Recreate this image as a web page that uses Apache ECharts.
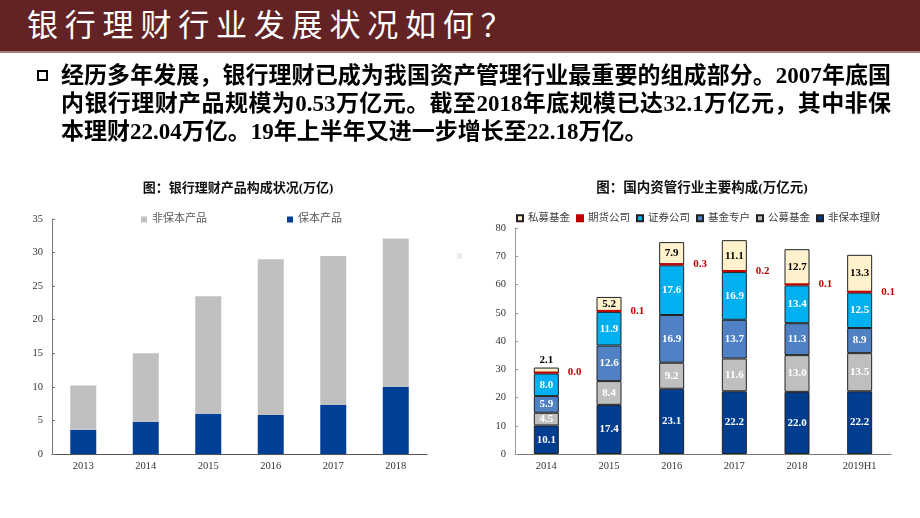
<!DOCTYPE html>
<html>
<head>
<meta charset="utf-8">
<script src="https://cdn.jsdelivr.net/npm/echarts@6/dist/echarts.min.js"></script>
<style>
  html, body { margin: 0; padding: 0; background: #fff; }
  #wrap { position: relative; width: 920px; height: 518px; overflow: hidden; }
  #chart { position: absolute; left: 0; top: 0; width: 920px; height: 518px; }
  #titlebar { position: absolute; left: 0; top: 0; width: 920px; height: 51px; background: #632325; border-bottom: 2px solid #a87f7f; }
  #titlebar span { position: absolute; left: 27px; top: 0; line-height: 46px; font-family: "Noto Sans CJK SC", sans-serif; font-size: 31px; color: #fff; letter-spacing: 6.8px; white-space: nowrap; }
  #para { position: absolute; left: 61px; top: 62px; width: 830px; font-family: "Liberation Serif", "Noto Sans CJK SC", serif; font-weight: bold; font-size: 23px; line-height: 28px; color: #000; }
  #para div { white-space: nowrap; }
  #para .j { text-align: justify; text-align-last: justify; white-space: normal; }
  #bullet { position: absolute; left: 37px; top: 70px; width: 7px; height: 7px; border: 2px solid #000; }
</style>
</head>
<body>
<div id="wrap">
  <div id="chart"></div>
  <div id="titlebar"><span>银行理财行业发展状况如何？</span></div>
  <div id="bullet"></div>
  <div id="para">
    <div class="j">经历多年发展，银行理财已成为我国资产管理行业最重要的组成部分。2007年底国</div>
    <div class="j">内银行理财产品规模为0.53万亿元。截至2018年底规模已达32.1万亿元，其中非保</div>
    <div>本理财22.04万亿。19年上半年又进一步增长至22.18万亿。</div>
  </div>
</div>
<script>
// ---- Left chart data ----
const leftTitle = '图：银行理财产品构成状况(万亿)';
const leftCategories = ['2013', '2014', '2015', '2016', '2017', '2018'];
const leftGuaranteed = [3.6, 4.8, 6.0, 5.8, 7.3, 10.0];      // 保本产品
const leftNonGuaranteed = [6.6, 10.2, 17.5, 23.2, 22.2, 22.1]; // 非保本产品
const leftYTicks = [0, 5, 10, 15, 20, 25, 30, 35];

// ---- Right chart data ----
const rightTitle = '图：国内资管行业主要构成(万亿元)';
const rightCategories = ['2014', '2015', '2016', '2017', '2018', '2019H1'];
const nonGuaranteedWM = [10.1, 17.4, 23.1, 22.2, 22.0, 22.2]; // 非保本理财
const publicFunds = [4.5, 8.4, 9.2, 11.6, 13.0, 13.5];        // 公募基金
const fundSpecial = [5.9, 12.6, 16.9, 13.7, 11.3, 8.9];       // 基金专户
const securities = [8.0, 11.9, 17.6, 16.9, 13.4, 12.5];       // 证券公司
const futures = [0.0, 0.1, 0.3, 0.2, 0.1, 0.1];               // 期货公司
const privateFunds = [2.1, 5.2, 7.9, 11.1, 12.7, 13.3];       // 私募基金
const rightYTicks = [0, 10, 20, 30, 40, 50, 60, 70, 80];
const rightLegendOrder = ['私募基金', '期货公司', '证券公司', '基金专户', '公募基金', '非保本理财'];

const serif = '"Liberation Serif", "Times New Roman", "Noto Sans CJK SC", serif';
const labelColor = '#333';

function segLabel(color) {
  return {
    show: true, position: 'inside', color: color, fontFamily: serif,
    fontWeight: 'bold', fontSize: 11,
    formatter: p => Number(p.value).toFixed(1)
  };
}
function rightBar(name, data, color, textColor) {
  return {
    name: name, type: 'bar', stack: 'r', xAxisIndex: 1, yAxisIndex: 1,
    barWidth: 25, data: data.map(v => ({
      value: v,
      label: v < 3 ? { position: 'top', distance: 2 } : undefined
    })),
    itemStyle: { color: color, borderColor: '#222', borderWidth: 1 },
    label: segLabel(textColor)
  };
}

const chart = echarts.init(document.getElementById('chart'), null, { renderer: 'canvas' });
chart.setOption({
  backgroundColor: '#fff',
  animation: false,
  title: [
    { text: leftTitle, left: 233, top: 177, textAlign: 'center',
      textStyle: { fontFamily: serif, fontSize: 13, fontWeight: 'bold', color: '#111' } },
    { text: rightTitle, left: 697, top: 177, textAlign: 'center',
      textStyle: { fontFamily: serif, fontSize: 13.5, fontWeight: 'bold', color: '#111' } }
  ],
  legend: [
    { data: ['非保本产品', '保本产品'], left: 136, top: 209, itemWidth: 6, itemHeight: 6, itemGap: 80,
      icon: 'rect', textStyle: { fontFamily: serif, fontSize: 11, color: '#595959' } },
    { data: rightLegendOrder, left: 511, top: 208, itemWidth: 6, itemHeight: 6, itemGap: 6,
      icon: 'rect', textStyle: { fontFamily: serif, fontSize: 10.5, color: '#404040' } }
  ],
  grid: [
    { left: 52, top: 219, width: 375, height: 235 },
    { left: 515, top: 228, width: 376, height: 226 }
  ],
  xAxis: [
    { type: 'category', gridIndex: 0, data: leftCategories,
      axisLine: { lineStyle: { color: '#555' } },
      axisTick: { inside: true, length: 3, lineStyle: { color: '#555' } },
      axisLabel: { fontFamily: serif, fontSize: 10.5, color: labelColor, margin: 7 } },
    { type: 'category', gridIndex: 1, data: rightCategories,
      axisLine: { lineStyle: { color: '#777' } },
      axisTick: { inside: true, length: 3, lineStyle: { color: '#777' } },
      axisLabel: { fontFamily: serif, fontSize: 10.5, color: labelColor, margin: 7 } }
  ],
  yAxis: [
    { type: 'value', gridIndex: 0, min: leftYTicks[0], max: leftYTicks[leftYTicks.length - 1], interval: 5,
      splitLine: { show: false },
      axisLine: { show: true, lineStyle: { color: '#777' } },
      axisTick: { show: true, inside: true, length: 3, lineStyle: { color: '#777' } },
      axisLabel: { fontFamily: serif, fontSize: 10.5, color: labelColor, margin: 9 } },
    { type: 'value', gridIndex: 1, min: rightYTicks[0], max: rightYTicks[rightYTicks.length - 1], interval: 10,
      splitLine: { show: false },
      axisLine: { show: true, lineStyle: { color: '#999' } },
      axisTick: { show: true, inside: true, length: 3, lineStyle: { color: '#999' } },
      axisLabel: { fontFamily: serif, fontSize: 10.5, color: labelColor, margin: 9 } }
  ],
  series: [
    { name: '保本产品', type: 'bar', stack: 'l', xAxisIndex: 0, yAxisIndex: 0, barWidth: 26,
      data: leftGuaranteed, itemStyle: { color: '#003f96' } },
    { name: '非保本产品', type: 'bar', stack: 'l', xAxisIndex: 0, yAxisIndex: 0, barWidth: 26,
      data: leftNonGuaranteed, itemStyle: { color: '#c0c0c0' } },

    rightBar('非保本理财', nonGuaranteedWM, '#003d8f', '#fff'),
    rightBar('公募基金', publicFunds, '#bfbfbf', '#fff'),
    rightBar('基金专户', fundSpecial, '#4f81c4', '#fff'),
    rightBar('证券公司', securities, '#00b0f0', '#fff'),
    { name: '期货公司', type: 'bar', stack: 'r', xAxisIndex: 1, yAxisIndex: 1, barWidth: 25,
      barMinHeight: 2, z: 3, data: futures,
      itemStyle: { color: '#c00000', borderColor: '#c00000', borderWidth: 1 },
      label: { show: true, position: 'right', distance: 9, color: '#c00000', fontFamily: serif,
        fontWeight: 'bold', fontSize: 11, formatter: p => Number(p.value).toFixed(1) } },
    rightBar('私募基金', privateFunds, '#fff2cc', '#000')
  ],
  graphic: [
    { type: 'rect', left: 457, top: 253, shape: { width: 5, height: 6 }, style: { fill: '#ebebeb' } }
  ]
});
</script>
</body>
</html>
